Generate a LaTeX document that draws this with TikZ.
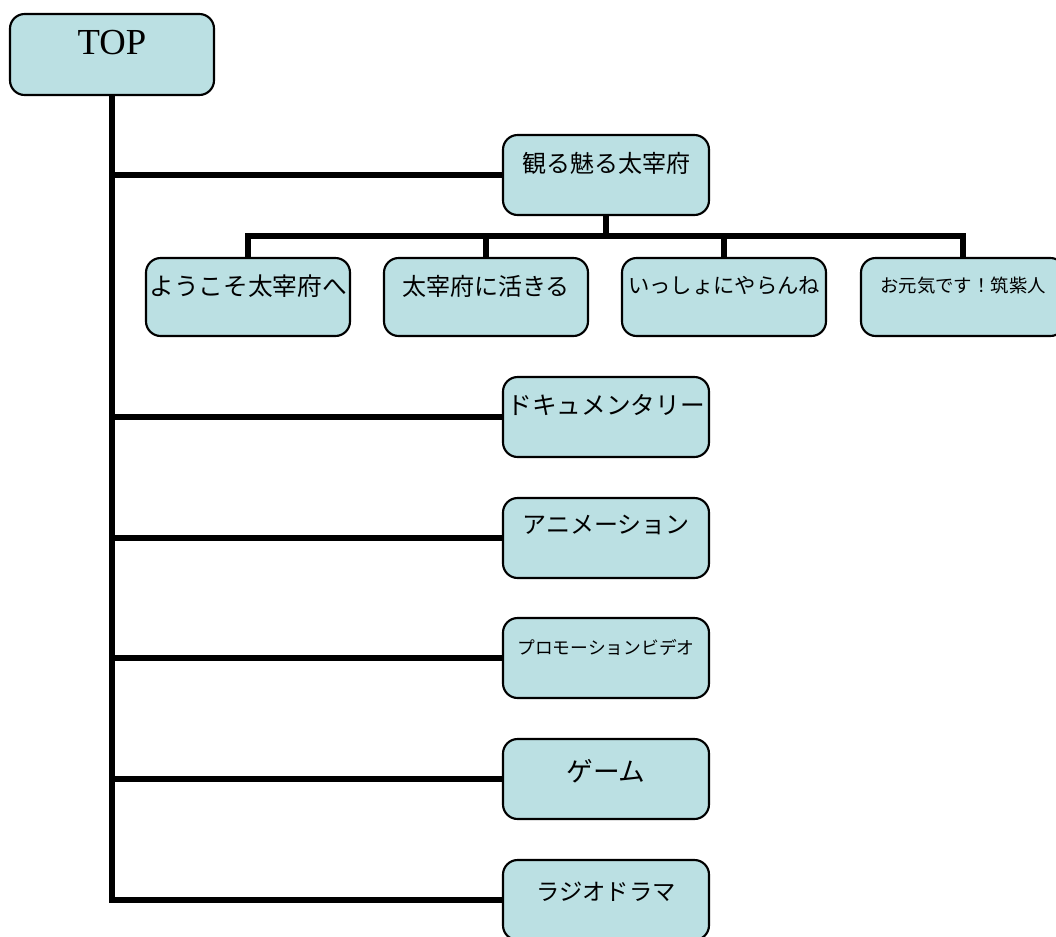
\documentclass[tikz,border=0pt]{standalone}
\usepackage{fontspec}
\setmainfont{Liberation Serif}
\newfontfamily\jpfont{Noto Sans CJK JP}
\definecolor{boxfill}{RGB}{187,224,227}
\tikzset{
  box/.style={draw=black, fill=boxfill, line width=1.6pt, rounded corners=11pt, inner sep=0pt},
  topbox/.style={box, minimum width=153pt, minimum height=60.75pt},
  midbox/.style={box, minimum width=154.5pt, minimum height=60pt},
  subbox/.style={box, minimum width=153pt, minimum height=58.5pt},
  lbl/.style={inner sep=0pt, text=black},
  conn/.style={draw=black, line width=4.5pt, line join=miter, line cap=butt}
}
\newcommand{\jp}[1]{\jpfont\fontsize{#1}{#1}\selectfont}
\begin{document}
\begin{tikzpicture}[x=0.75pt, y=-0.75pt]
\useasboundingbox (0,0) rectangle (1056,936);
\clip (0,0) rectangle (1056,936);
% box positions
\coordinate (top) at (112,54.5);
\coordinate (kanmi) at (606,175);
\coordinate (you) at (248,297);
\coordinate (iki) at (486,297);
\coordinate (issho) at (724,297);
\coordinate (genki) at (963,297);
\coordinate (doc) at (606,417);
\coordinate (anime) at (606,538);
\coordinate (promo) at (606,658);
\coordinate (game) at (606,779);
\coordinate (radio) at (606,900);
% invisible anchors for connectors
\node[topbox, draw=none, fill=none] (topb) at (top) {};
\node[midbox, draw=none, fill=none] (kanmib) at (kanmi) {};
\node[subbox, draw=none, fill=none] (youb) at (you) {};
\node[subbox, draw=none, fill=none] (ikib) at (iki) {};
\node[subbox, draw=none, fill=none] (isshob) at (issho) {};
\node[subbox, draw=none, fill=none] (genkib) at (genki) {};
\node[midbox, draw=none, fill=none] (docb) at (doc) {};
\node[midbox, draw=none, fill=none] (animeb) at (anime) {};
\node[midbox, draw=none, fill=none] (promob) at (promo) {};
\node[midbox, draw=none, fill=none] (gameb) at (game) {};
\node[midbox, draw=none, fill=none] (radiob) at (radio) {};
% connectors
\coordinate (bus) at (606,236);
\draw[conn] (topb.south) |- (radiob.west);
\draw[conn] (kanmib.west) -- (kanmib.west -| topb.south);
\draw[conn] (docb.west) -- (docb.west -| topb.south);
\draw[conn] (animeb.west) -- (animeb.west -| topb.south);
\draw[conn] (promob.west) -- (promob.west -| topb.south);
\draw[conn] (gameb.west) -- (gameb.west -| topb.south);
\draw[conn] (kanmib.south) -- (bus);
\draw[conn] (bus) -| (youb.north);
\draw[conn] (bus) -| (ikib.north);
\draw[conn] (bus) -| (isshob.north);
\draw[conn] (bus) -| (genkib.north);
% boxes drawn above connectors
\node[topbox] (topv) at (top) {};
\node[midbox] (kanmiv) at (kanmi) {};
\node[subbox] (youv) at (you) {};
\node[subbox] (ikiv) at (iki) {};
\node[subbox] (isshov) at (issho) {};
\node[subbox] (genkiv) at (genki) {};
\node[midbox] (docv) at (doc) {};
\node[midbox] (animev) at (anime) {};
\node[midbox] (promov) at (promo) {};
\node[midbox] (gamev) at (game) {};
\node[midbox] (radiov) at (radio) {};
% labels
\node[lbl, font=\fontsize{27.5pt}{27.5pt}\selectfont] (top-t) at (112,43) {TOP};
\node[lbl, font=\jp{18pt}] (kanmi-t) at (606,163) {観る魅る太宰府};
\node[lbl, font=\jp{18.5pt}] (you-t) at (248,286) {ようこそ太宰府へ};
\node[lbl, font=\jp{18pt}] (iki-t) at (486,286) {太宰府に活きる};
\node[lbl, font=\jp{16pt}] (issho-t) at (724,286) {いっしょにやらんね};
\node[lbl, font=\jp{13.8pt}] (genki-t) at (963,286) {お元気です！筑紫人};
\node[lbl, font=\jp{18.5pt}] (doc-t) at (606,405) {ドキュメンタリー};
\node[lbl, font=\jp{18pt}] (anime-t) at (606,525) {アニメーション};
\node[lbl, font=\jp{13.3pt}] (promo-t) at (606,647) {プロモーションビデオ};
\node[lbl, font=\jp{20pt}] (game-t) at (606,771) {ゲーム};
\node[lbl, font=\jp{17.5pt}] (radio-t) at (606,892) {ラジオドラマ};
\end{tikzpicture}
\end{document}
